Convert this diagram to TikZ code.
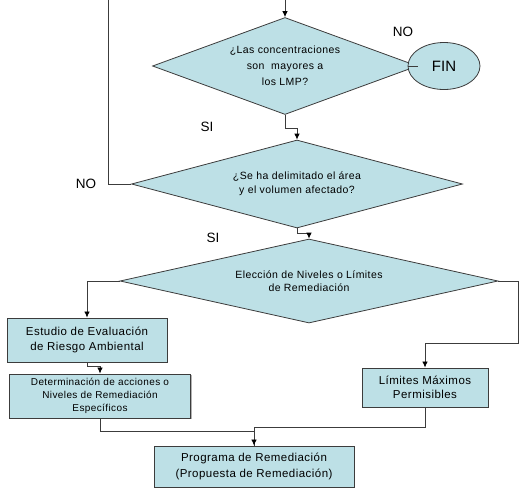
\documentclass[tikz,border=0pt]{standalone}
\usepackage{fontspec}
\setmainfont{Liberation Sans}
\newfontfamily\flowfont{Liberation Sans}[LetterSpace=4.0]
\usetikzlibrary{shapes.geometric,arrows.meta,shadows}
\definecolor{flowfill}{RGB}{189,224,230}
\definecolor{flowline}{RGB}{60,60,60}

\begin{document}
\begin{tikzpicture}[x=1pt,y=-1pt,
                        decision/.style={diamond, draw=flowline, line width=0.8pt, fill=flowfill, inner sep=0pt, align=center},
                        proc/.style={rectangle, draw=flowline, line width=0.9pt, fill=flowfill, inner sep=0pt, align=center, drop shadow={shadow xshift=1pt, shadow yshift=-1pt, fill=black!60}},
                        flow/.style={draw=flowline, line width=0.8pt, -{Latex[length=6pt,width=5.5pt,color=black]}},
                        link/.style={draw=flowline, line width=0.8pt},
                        answer/.style={font=\fontsize{13.5}{16}\selectfont}]
                        \useasboundingbox (0,0) rectangle (519,491);
                        \coordinate (entrada) at (285,0);
                        \coordinate (retorno) at (108,0);
                        \coordinate (derecha) at (518,343);
                        \node[decision, aspect=2.73, minimum width=265pt, minimum height=97pt, font=\flowfont\fontsize{10.5}{16}\selectfont] (conc) at (285,66) {¿Las concentraciones\\son \ mayores a\\los LMP?};
                        \node[ellipse, draw=flowline, line width=0.8pt, fill=flowfill, inner sep=0pt, minimum width=72pt, minimum height=47pt, font=\fontsize{15}{18}\selectfont] (fin) at (444,66) {FIN};
                        \node[decision, aspect=3.76, minimum width=331pt, minimum height=88pt, font=\flowfont\fontsize{10.5}{14}\selectfont] (area) at (297,184) {¿Se ha delimitado el área\\y el volumen afectado?};
                        \node[decision, aspect=4.5, minimum width=378pt, minimum height=84pt, font=\flowfont\fontsize{10.5}{13}\selectfont] (elec) at (309,281) {Elección de Niveles o Límites\\de Remediación};
                        \node[proc, minimum width=160pt, minimum height=44pt, font=\flowfont\fontsize{11.5}{15}\selectfont] (estudio) at (87,340) {Estudio de Evaluación\\de Riesgo Ambiental};
                        \node[proc, minimum width=181pt, minimum height=44pt, font=\flowfont\fontsize{10}{13}\selectfont] (determ) at (100,396) {Determinación de acciones o\\Niveles de Remediación\\Específicos};
                        \node[proc, minimum width=126pt, minimum height=39pt, font=\flowfont\fontsize{11.5}{14}\selectfont] (lmp) at (425,387.5) {Límites Máximos\\Permisibles};
                        \node[proc, minimum width=200pt, minimum height=41pt, font=\flowfont\fontsize{11.5}{16}\selectfont] (prog) at (254,466.5) {Programa de Remediación\\(Propuesta de Remediación)};
                        \node[answer] (no1) at (403,32) {NO};
                        \node[answer] (si1) at (207,127) {SI};
                        \node[answer] (no2) at (86,184) {NO};
                        \node[answer] (si2) at (213,238) {SI};
                        \draw[flow] (entrada) -- (conc.north);
                        \draw[link] (conc.east) -- (fin.west);
                        \draw[flow] (conc.south) -- ++(0,13) -| (area.north);
                        \draw[link] (area.west) -| (retorno);
                        \draw[flow] (area.south) -- ++(0,5) -| (elec.north);
                        \draw[flow] (elec.west) -| (estudio.north);
                        \draw[flow] (elec.east) -| (derecha) -| (lmp.north);
                        \draw[flow] (estudio.south) -- ++(0,4) -| (determ.north);
                        \draw[link] (determ.south) -- ++(0,13) -| (prog.north);
                        \draw[flow] (lmp.south) -- ++(0,20) -| (prog.north);
                    \end{tikzpicture}
\end{document}
